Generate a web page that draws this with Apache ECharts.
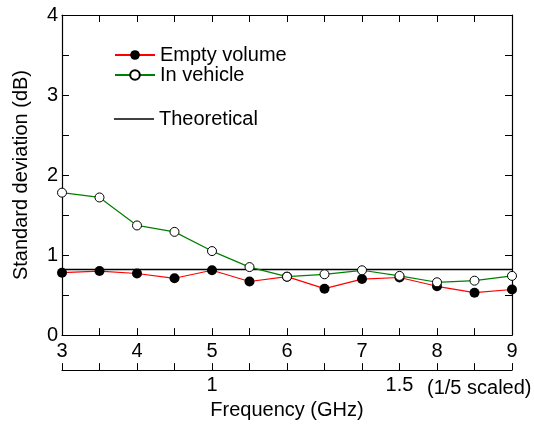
<!DOCTYPE html>
<html>
<head>
<meta charset="utf-8">
<script src="https://cdn.jsdelivr.net/npm/echarts@6/dist/echarts.min.js"></script>
<style>
  html, body { margin: 0; padding: 0; background: #fff; }
  #chart { width: 534px; height: 425px; }
</style>
</head>
<body>
<div id="chart"></div>
<script>
// frequency points (GHz)
const freq = [3, 3.5, 4, 4.5, 5, 5.5, 6, 6.5, 7, 7.5, 8, 8.5, 9];
const emptyVolume = [0.78, 0.80, 0.77, 0.71, 0.81, 0.67, 0.73, 0.58, 0.70, 0.72, 0.61, 0.53, 0.57];
const inVehicle = [1.78, 1.72, 1.37, 1.29, 1.05, 0.85, 0.73, 0.76, 0.81, 0.74, 0.66, 0.68, 0.74];
const theoretical = 0.82;
const scaledLabels = { 5: "1", 7.5: "1.5" };

const font = "Liberation Sans";
const txt = { color: "#000", fontFamily: font, fontSize: 20 };

const pairs = (ys) => freq.map((f, i) => [f, ys[i]]);

const chart = echarts.init(document.getElementById("chart"));

const baseX = {
  type: "value",
  min: 3,
  max: 9,
  interval: 0.5,
  gridIndex: 0,
  axisLine: { show: true, onZero: false, lineStyle: { color: "#000", width: 1.2 } },
  axisTick: { show: true, inside: true, length: 7, lineStyle: { color: "#000" } },
  splitLine: { show: false },
};

chart.setOption({
  animation: false,
  backgroundColor: "#fff",
  textStyle: { fontFamily: font },
  grid: { left: 62, right: 22, top: 15, bottom: 86 },
  legend: [
    {
      data: ["Empty volume", "In vehicle"],
      orient: "vertical",
      left: 114,
      top: 45,
      padding: 0,
      itemWidth: 40,
      itemHeight: 12,
      itemGap: 0,
      textStyle: { ...txt, lineHeight: 20 },
    },
    {
      data: [{ name: "Theoretical", icon: "rect" }],
      left: 114,
      top: 109,
      padding: 0,
      itemWidth: 40,
      itemHeight: 1.5,
      textStyle: { ...txt, lineHeight: 20 },
    },
  ],
  xAxis: [
    Object.assign({}, baseX, {
      position: "bottom",
      axisLabel: {
        ...txt,
        margin: 6,
        formatter: (v) => (Number.isInteger(v) ? String(v) : ""),
      },
    }),
    Object.assign({}, baseX, {
      position: "top",
      axisLabel: { show: false },
    }),
    Object.assign({}, baseX, {
      position: "bottom",
      offset: 35,
      axisLabel: {
        ...txt,
        margin: 5,
        formatter: (v) => scaledLabels[v] || "",
      },
      name: "Frequency (GHz)",
      nameLocation: "middle",
      nameGap: 28,
      nameTextStyle: txt,
    }),
  ],
  yAxis: [
    {
      type: "value",
      min: 0,
      max: 4,
      interval: 0.5,
      position: "left",
      axisLine: { show: true, onZero: false, lineStyle: { color: "#000", width: 1.2 } },
      axisTick: { show: true, inside: true, length: 7, lineStyle: { color: "#000" } },
      axisLabel: {
        ...txt,
        margin: 4,
        formatter: (v) => (Number.isInteger(v) ? String(v) : ""),
      },
      splitLine: { show: false },
      name: "Standard deviation (dB)",
      nameLocation: "middle",
      nameGap: 31,
      nameTextStyle: txt,
    },
    {
      type: "value",
      min: 0,
      max: 4,
      interval: 0.5,
      position: "right",
      axisLine: { show: true, onZero: false, lineStyle: { color: "#000", width: 1.2 } },
      axisTick: { show: true, inside: true, length: 7, lineStyle: { color: "#000" } },
      axisLabel: { show: false },
      splitLine: { show: false },
    },
  ],
  graphic: [
    {
      type: "text",
      left: 427,
      top: 378,
      style: { text: "(1/5 scaled)", fill: "#000", font: "20px " + font },
    },
  ],
  series: [
    {
      name: "Theoretical",
      type: "line",
      xAxisIndex: 0,
      yAxisIndex: 0,
      symbol: "none",
      z: 1,
      lineStyle: { color: "#000", width: 1.5 },
      itemStyle: { color: "#000" },
      data: [[3, theoretical], [9, theoretical]],
    },
    {
      name: "Empty volume",
      type: "line",
      xAxisIndex: 0,
      yAxisIndex: 0,
      symbol: "circle",
      symbolSize: 10,
      z: 3,
      lineStyle: { color: "#ff0000", width: 1.2 },
      itemStyle: { color: "#000", borderColor: "#000", borderWidth: 0 },
      data: pairs(emptyVolume),
    },
    {
      name: "In vehicle",
      type: "line",
      xAxisIndex: 0,
      yAxisIndex: 0,
      symbol: "circle",
      symbolSize: 9,
      z: 4,
      lineStyle: { color: "#008000", width: 1.2 },
      itemStyle: { color: "#fff", borderColor: "#000", borderWidth: 1 },
      data: pairs(inVehicle),
    },
  ],
});
</script>
</body>
</html>
